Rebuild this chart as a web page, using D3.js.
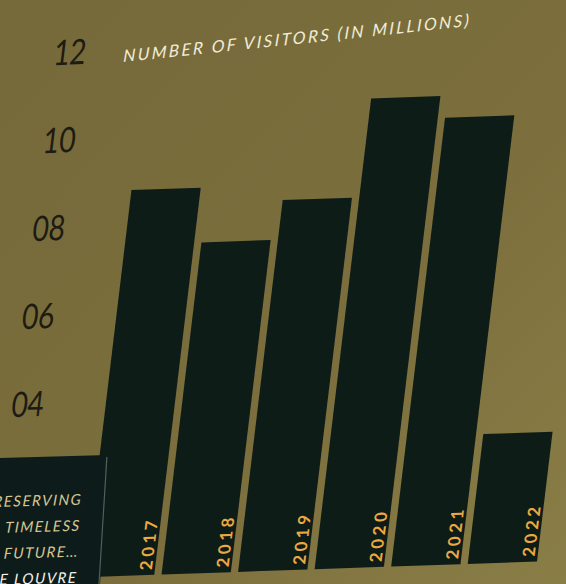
<!DOCTYPE html>
<html>
<head>
<meta charset="utf-8">
<script src="https://cdn.jsdelivr.net/npm/d3@7"></script>
<style>
	html, body { margin: 0; padding: 0; background: #786c3b; }
	svg { display: block; }
</style>
</head>
<body>
<div id="chart"></div>
<script>
var years = ['2017', '2018', '2019', '2020', '2021', '2022'];
var visitors = [8.8, 7.55, 8.45, 10.7, 10.2, 2.95];
var tickValues = [4, 6, 8, 10, 12];
var tickLabels = ['04', '06', '08', '10', '12'];
var title = 'NUMBER OF VISITORS (IN MILLIONS)';
var signLines = ['PRESERVING', 'A TIMELESS', 'FUTURE…', 'LE LOUVRE'];

var width = 566, height = 584;
var plotH = 528;

var svg = d3.select('#chart').append('svg')
	.attr('width', width)
	.attr('height', height);

/* Olive wall, a little lighter toward the bottom right */
var grad = svg.append('defs').append('linearGradient')
	.attr('id', 'wall')
	.attr('x1', '0%').attr('y1', '0%')
	.attr('x2', '100%').attr('y2', '100%');
grad.append('stop').attr('offset', '0%').attr('stop-color', '#76693a');
grad.append('stop').attr('offset', '60%').attr('stop-color', '#7c6f3d');
grad.append('stop').attr('offset', '100%').attr('stop-color', '#8a7e47');

svg.append('rect')
	.attr('width', width)
	.attr('height', height)
	.attr('fill', 'url(#wall)');

/* The chart is photographed at an angle: fake it with a skew */
var g = svg.append('g')
	.attr('transform', 'matrix(1,-0.035,-0.12,1,' + (0.12 * plotH) + ',52.25)');

var x = d3.scaleBand()
	.domain(years)
	.range([85, 537])
	.paddingInner(0.095);

var y = d3.scaleLinear()
	.domain([0, 12])
	.range([plotH, 0]);

g.selectAll('.bar')
	.data(years)
	.enter().append('rect')
	.attr('class', 'bar')
	.attr('x', function(d) { return x(d); })
	.attr('y', function(d, i) { return y(visitors[i]); })
	.attr('width', x.bandwidth())
	.attr('height', function(d, i) { return y(0) - y(visitors[i]); })
	.attr('fill', '#0e1c18');

g.selectAll('.year')
	.data(years)
	.enter().append('text')
	.attr('class', 'year')
	.attr('transform', function(d) {
		return 'translate(' + (x(d) + x.bandwidth() - 3) + ',' + (y(0) - 5) + ') rotate(-90)';
	})
	.attr('fill', '#eaa941')
	.style('font-family', 'Lato, sans-serif')
	.style('font-weight', 700)
	.style('font-size', '17px')
	.style('letter-spacing', '3.5px')
	.text(function(d) { return d; });

g.selectAll('.tick')
	.data(tickValues)
	.enter().append('text')
	.attr('class', 'tick')
	.attr('transform', function(d) {
		return 'translate(23,' + y(d) + ') scale(0.8,1)';
	})
	.attr('text-anchor', 'end')
	.attr('dy', '0.36em')
	.attr('fill', '#1d1b12')
	.style('font-family', 'Lato, sans-serif')
	.style('font-size', '35px')
	.text(function(d, i) { return tickLabels[i]; });

g.append('text')
	.attr('transform', 'translate(61,12) rotate(-4)')
	.attr('fill', '#f1ecd6')
	.attr('textLength', 345)
	.attr('lengthAdjust', 'spacing')
	.style('font-family', 'Lato, sans-serif')
	.style('font-style', 'italic')
	.style('font-size', '17px')
	.style('letter-spacing', '1.2px')
	.text(title);

/* Dark sign standing in front, bottom left */
var sign = svg.append('g')
	.attr('transform', 'matrix(1,-0.028,-0.062,1,108,455)');

sign.append('rect')
	.attr('x', -140)
	.attr('y', 0)
	.attr('width', 140)
	.attr('height', 150)
	.attr('fill', '#0d1c1b');

sign.append('line')
	.attr('x1', -1).attr('y1', 2)
	.attr('x2', -1).attr('y2', 150)
	.attr('stroke', '#4f615e')
	.attr('stroke-width', 1.2);

var lineY = d3.scalePoint()
	.domain(d3.range(signLines.length))
	.range([49, 127]);

sign.selectAll('.sign-line')
	.data(signLines)
	.enter().append('text')
	.attr('class', 'sign-line')
	.attr('x', -23)
	.attr('y', function(d, i) { return lineY(i); })
	.attr('text-anchor', 'end')
	.attr('fill', function(d, i) { return i === signLines.length - 1 ? '#f4f3ee' : '#d7c68f'; })
	.style('font-family', 'Lato, sans-serif')
	.style('font-style', 'italic')
	.style('font-size', '15px')
	.style('letter-spacing', '1.5px')
	.text(function(d) { return d; });
</script>
</body>
</html>
